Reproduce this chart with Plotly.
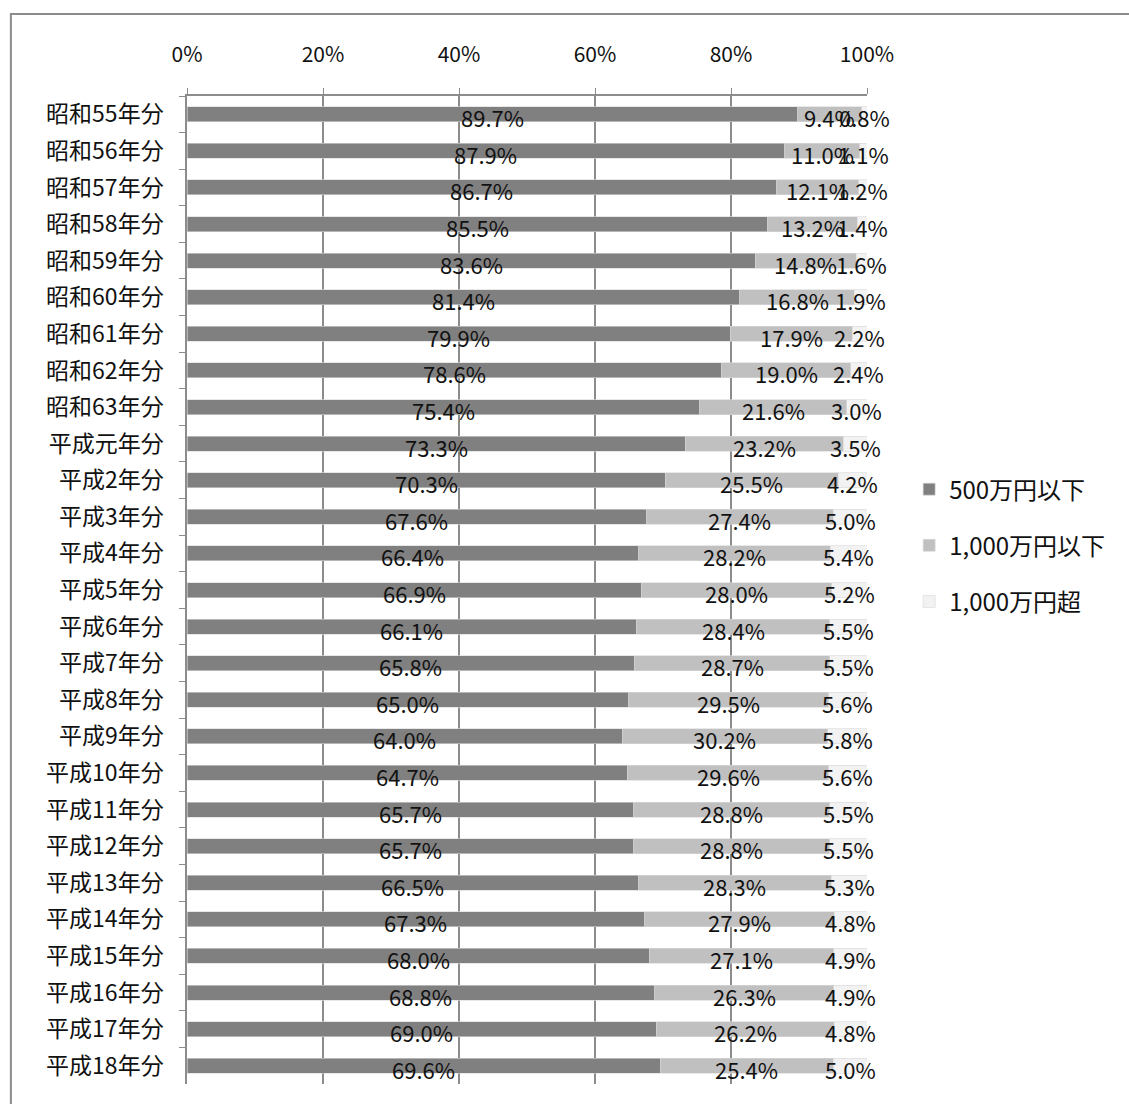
import plotly.graph_objects as go

# 年分ごとの所得階級別構成比（%）
years = [
    "昭和55年分", "昭和56年分", "昭和57年分", "昭和58年分", "昭和59年分",
    "昭和60年分", "昭和61年分", "昭和62年分", "昭和63年分", "平成元年分",
    "平成2年分", "平成3年分", "平成4年分", "平成5年分", "平成6年分",
    "平成7年分", "平成8年分", "平成9年分", "平成10年分", "平成11年分",
    "平成12年分", "平成13年分", "平成14年分", "平成15年分", "平成16年分",
    "平成17年分", "平成18年分",
]
under_500 = [89.7, 87.9, 86.7, 85.5, 83.6, 81.4, 79.9, 78.6, 75.4, 73.3,
             70.3, 67.6, 66.4, 66.9, 66.1, 65.8, 65.0, 64.0, 64.7, 65.7,
             65.7, 66.5, 67.3, 68.0, 68.8, 69.0, 69.6]
under_1000 = [9.4, 11.0, 12.1, 13.2, 14.8, 16.8, 17.9, 19.0, 21.6, 23.2,
              25.5, 27.4, 28.2, 28.0, 28.4, 28.7, 29.5, 30.2, 29.6, 28.8,
              28.8, 28.3, 27.9, 27.1, 26.3, 26.2, 25.4]
over_1000 = [0.8, 1.1, 1.2, 1.4, 1.6, 1.9, 2.2, 2.4, 3.0, 3.5,
             4.2, 5.0, 5.4, 5.2, 5.5, 5.5, 5.6, 5.8, 5.6, 5.5,
             5.5, 5.3, 4.8, 4.9, 4.9, 4.8, 5.0]

series_names = ["500万円以下", "1,000万円以下", "1,000万円超"]
series_values = [under_500, under_1000, over_1000]
series_colors = ["#808080", "#C0C0C0", "#F2F2F2"]
x_ticks = [0, 20, 40, 60, 80, 100]
x_tick_labels = ["0%", "20%", "40%", "60%", "80%", "100%"]

FONT = "Noto Sans CJK JP, Noto Sans, sans-serif"
AXIS_GRAY = "#8C8C8C"

fig = go.Figure()

for name, vals, color in zip(series_names, series_values, series_colors):
    fig.add_trace(go.Bar(
        y=years, x=vals, name=name, orientation="h",
        marker=dict(color=color, line=dict(color="#D9D9D9", width=0.6)),
        legendgroup=name, hoverinfo="skip",
    ))

# data labels at the centre of each (normalised) segment
totals = [sum(v) for v in zip(*series_values)]
cum = [0.0] * len(years)
for vals in series_values:
    for i, v in enumerate(vals):
        share = v / totals[i] * 100
        fig.add_annotation(
            x=cum[i] + share / 2, y=years[i], xref="x", yref="y",
            text=f"{v:.1f}%", showarrow=False, yshift=-3,
            font=dict(family=FONT, size=22, color="#111111"),
        )
        cum[i] += share

# outer chart frame
fig.add_shape(type="rect", xref="paper", yref="paper",
              x0=-0.259, x1=1.6, y0=-0.2, y1=1.083,
              line=dict(color=AXIS_GRAY, width=2), fillcolor="rgba(0,0,0,0)",
              layer="below")

fig.update_layout(
    width=1129, height=1104,
    margin=dict(l=187, r=262, t=96, b=20),
    barmode="stack", barnorm="percent", bargap=0.59,
    plot_bgcolor="white", paper_bgcolor="white",
    font=dict(family=FONT, size=21, color="#111111"),
    showlegend=True,
    legend=dict(
        x=1.062, y=0.545, xanchor="left", yanchor="middle",
        font=dict(family=FONT, size=24, color="#111111"),
        tracegroupgap=22, itemwidth=30,
        bgcolor="rgba(0,0,0,0)",
    ),
    xaxis=dict(
        side="top", range=[0, 100], tickvals=x_ticks, ticktext=x_tick_labels,
        showgrid=True, gridcolor=AXIS_GRAY, gridwidth=1.5,
        showline=True, linecolor=AXIS_GRAY, linewidth=1.5,
        ticks="outside", ticklen=6, tickcolor=AXIS_GRAY,
        ticklabelstandoff=18,
        tickfont=dict(family=FONT, size=21, color="#111111"),
        zeroline=False, fixedrange=True,
    ),
    yaxis=dict(
        autorange=False, range=[len(years) - 0.5, -0.5], type="category",
        showline=True, linecolor=AXIS_GRAY, linewidth=1.5,
        ticks="outside", ticklen=6, tickcolor=AXIS_GRAY,
        tickson="boundaries", ticklabelstandoff=17,
        tickfont=dict(family=FONT, size=23, color="#111111"),
        showgrid=False, fixedrange=True,
    ),
)

fig.write_html("out.html")
